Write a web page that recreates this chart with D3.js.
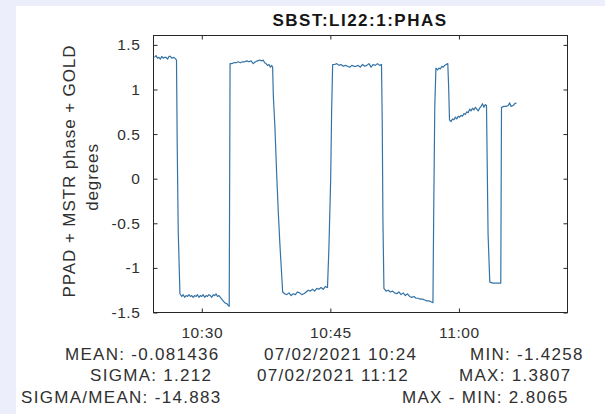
<!DOCTYPE html>
<html>
<head>
<meta charset="utf-8">
<script src="https://cdn.jsdelivr.net/npm/d3@7"></script>
<style>
  html, body { margin: 0; padding: 0; background: #ffffff; }
  svg { display: block; font-family: "Liberation Sans", Arial, sans-serif; }
</style>
</head>
<body>
<svg id="chart" width="605" height="414"></svg>
<script>
// PV being plotted
const chartTitle = "SBST:LI22:1:PHAS";
const yLabelLines = ["PPAD + MSTR phase + GOLD", "degrees"];

// axis ticks
const yTicks = [-1.5, -1, -0.5, 0, 0.5, 1, 1.5];
const yTickLabels = ["-1.5", "-1", "-0.5", "0", "0.5", "1", "1.5"];
const xTickTimes = ["10:30:00", "10:45:00", "11:00:00"];
const xTickLabels = ["10:30", "10:45", "11:00"];
const xRange = ["10:24:22", "11:12:40"];
const yRange = [-1.5, 1.605];

// samples (07/02/2021)
const sampleTimes = [
  "10:24:29", "10:24:40", "10:24:50", "10:25:00", "10:25:10", "10:25:20", "10:25:30", "10:25:40",
  "10:25:50", "10:26:00", "10:26:10", "10:26:20", "10:26:30", "10:26:45", "10:26:58",
  "10:27:03", "10:27:08", "10:27:15", "10:27:27",
  "10:27:40", "10:27:50", "10:28:00", "10:28:10", "10:28:20", "10:28:30", "10:28:40", "10:28:50",
  "10:29:00", "10:29:10", "10:29:20", "10:29:30", "10:29:40", "10:29:50", "10:30:00", "10:30:10",
  "10:30:20", "10:30:30", "10:30:40", "10:30:50", "10:31:00", "10:31:10", "10:31:20", "10:31:30",
  "10:31:40", "10:31:50", "10:32:00",
  "10:32:10", "10:32:25", "10:32:40", "10:32:55", "10:33:05", "10:33:12",
  "10:33:18",
  "10:33:30", "10:33:45", "10:34:00", "10:34:15", "10:34:30", "10:34:45", "10:35:00", "10:35:15",
  "10:35:30", "10:35:45", "10:36:00", "10:36:15", "10:36:30", "10:36:45", "10:37:00", "10:37:10",
  "10:37:20", "10:37:30", "10:37:40", "10:37:50", "10:38:00", "10:38:10",
  "10:38:16", "10:38:21", "10:38:32", "10:38:44", "10:38:56", "10:39:08", "10:39:19", "10:39:26",
  "10:39:40", "10:39:55", "10:40:10", "10:40:25", "10:40:40", "10:40:55", "10:41:10", "10:41:25",
  "10:41:40", "10:41:55", "10:42:10", "10:42:25", "10:42:40", "10:42:55", "10:43:10", "10:43:25",
  "10:43:40", "10:43:55", "10:44:10", "10:44:25", "10:44:40",
  "10:44:50", "10:45:02", "10:45:09", "10:45:16",
  "10:45:30", "10:45:45", "10:46:00", "10:46:15", "10:46:30", "10:46:45", "10:47:00", "10:47:15",
  "10:47:30", "10:47:45", "10:48:00", "10:48:15", "10:48:30", "10:48:45", "10:49:00", "10:49:15",
  "10:49:30", "10:49:45", "10:50:00", "10:50:15", "10:50:30", "10:50:45", "10:50:58",
  "10:51:03", "10:51:08", "10:51:15",
  "10:51:30", "10:51:45", "10:52:00", "10:52:15", "10:52:30", "10:52:45", "10:53:00", "10:53:15",
  "10:53:30", "10:53:45", "10:54:00", "10:54:15", "10:54:30", "10:54:45", "10:55:00", "10:55:15",
  "10:55:30", "10:55:45", "10:56:00", "10:56:15", "10:56:30", "10:56:45", "10:56:58",
  "10:57:04", "10:57:11", "10:57:19",
  "10:57:30", "10:57:40", "10:57:50", "10:58:00", "10:58:10", "10:58:20", "10:58:30", "10:58:42",
  "10:58:48", "10:58:54",
  "10:59:05", "10:59:15", "10:59:25", "10:59:35", "10:59:45", "10:59:55", "11:00:05", "11:00:15",
  "11:00:25", "11:00:35", "11:00:45", "11:00:55", "11:01:05", "11:01:15", "11:01:25", "11:01:35",
  "11:01:45", "11:01:55", "11:02:05", "11:02:15", "11:02:25", "11:02:35", "11:02:45", "11:02:55",
  "11:03:05", "11:03:13",
  "11:03:24", "11:03:36",
  "11:04:00", "11:04:25", "11:04:53",
  "11:04:58",
  "11:05:15", "11:05:30", "11:05:45", "11:05:55", "11:06:05", "11:06:20", "11:06:30", "11:06:42"
];
const phaseValues = [
  1.36, 1.38, 1.35, 1.36, 1.34, 1.37, 1.35, 1.36,
  1.36, 1.34, 1.37, 1.37, 1.35, 1.36, 1.34,
  1.33, 0.38, -0.58, -1.29,
  -1.32, -1.30, -1.33, -1.31, -1.32, -1.30, -1.32, -1.31,
  -1.33, -1.31, -1.32, -1.30, -1.33, -1.31, -1.32, -1.30,
  -1.33, -1.31, -1.32, -1.30, -1.31, -1.33, -1.30, -1.31,
  -1.29, -1.32, -1.31,
  -1.33, -1.36, -1.39, -1.40, -1.42, -1.43,
  1.29,
  1.29, 1.30, 1.30, 1.31, 1.30, 1.31, 1.31, 1.32,
  1.31, 1.32, 1.29, 1.31, 1.32, 1.33, 1.32, 1.33,
  1.30, 1.29, 1.27, 1.28, 1.25, 1.27,
  1.25, 0.92, 0.58, 0.06, -0.39, -0.77, -1.07, -1.27,
  -1.29, -1.30, -1.28, -1.31, -1.29, -1.30, -1.27, -1.28,
  -1.30, -1.29, -1.27, -1.25, -1.26, -1.24, -1.26, -1.23,
  -1.24, -1.22, -1.24, -1.21, -1.22,
  -0.77, -0.02, 0.77, 1.28,
  1.28, 1.29, 1.27, 1.28, 1.26, 1.27, 1.26, 1.25,
  1.27, 1.26, 1.26, 1.27, 1.25, 1.28, 1.26, 1.27,
  1.29, 1.25, 1.28, 1.27, 1.29, 1.27, 1.28,
  0.66, -0.47, -1.23,
  -1.26, -1.25, -1.27, -1.26, -1.28, -1.29, -1.27, -1.30,
  -1.28, -1.31, -1.29, -1.32, -1.33, -1.32, -1.34, -1.34,
  -1.35, -1.35, -1.36, -1.37, -1.37, -1.38, -1.39,
  -0.28, 0.81, 1.24,
  1.22, 1.24, 1.23, 1.26, 1.25, 1.27, 1.28, 1.29,
  1.03, 0.66,
  0.64, 0.67, 0.66, 0.69, 0.67, 0.70, 0.69, 0.71,
  0.70, 0.73, 0.72, 0.75, 0.74, 0.78, 0.76, 0.79,
  0.77, 0.80, 0.78, 0.76, 0.79, 0.81, 0.84, 0.80,
  0.83, 0.82,
  -0.62, -1.16,
  -1.17, -1.17, -1.17,
  0.80,
  0.81, 0.81, 0.82, 0.85, 0.81, 0.82, 0.84, 0.85
];

// summary printed under the plot
const statLabels = ["MEAN", "SIGMA", "SIGMA/MEAN", "MIN", "MAX", "MAX - MIN"];
const statValues = ["-0.081436", "1.212", "-14.883", "-1.4258", "1.3807", "2.8065"];
const dateRange = ["07/02/2021 10:24", "07/02/2021 11:12"];

const parseTime = d3.timeParse("%H:%M:%S");
const data = sampleTimes.map((t, i) => ({ time: parseTime(t), value: phaseValues[i] }));

const svg = d3.select("#chart");

// page background (lavender frame at top/left)
svg.append("rect").attr("width", 605).attr("height", 414).attr("fill", "#eceefb");
svg.append("rect").attr("x", 16).attr("y", 6).attr("width", 589).attr("height", 408).attr("fill", "#ffffff");

const plot = { left: 153.5, right: 567.5, top: 35.5, bottom: 312.5 };

const x = d3.scaleTime().domain(xRange.map(parseTime)).range([plot.left, plot.right]);
const y = d3.scaleLinear().domain(yRange).range([plot.bottom, plot.top]);

const axisColor = "#262626";
const textColor = "#303030";

// bottom axis with labels
svg.append("g")
  .attr("transform", `translate(0,${plot.bottom})`)
  .call(d3.axisBottom(x)
    .tickValues(xTickTimes.map(parseTime))
    .tickFormat((d, i) => xTickLabels[i])
    .tickSizeInner(-4).tickSizeOuter(0).tickPadding(14));

// left axis with labels
svg.append("g")
  .attr("transform", `translate(${plot.left},0)`)
  .call(d3.axisLeft(y)
    .tickValues(yTicks)
    .tickFormat((d, i) => yTickLabels[i])
    .tickSizeInner(-4).tickSizeOuter(0).tickPadding(13));

// top and right: ticks only
svg.append("g")
  .attr("transform", `translate(0,${plot.top})`)
  .call(d3.axisTop(x).tickValues(xTickTimes.map(parseTime)).tickFormat("")
    .tickSizeInner(-4).tickSizeOuter(0));
svg.append("g")
  .attr("transform", `translate(${plot.right},0)`)
  .call(d3.axisRight(y).tickValues(yTicks).tickFormat("")
    .tickSizeInner(-4).tickSizeOuter(0));

svg.selectAll(".domain").remove();
svg.selectAll(".tick line").attr("stroke", axisColor);
svg.selectAll(".tick text")
  .attr("fill", textColor)
  .style("font-size", "15.5px")
  .style("letter-spacing", "0.6px");

// axes box
svg.append("rect")
  .attr("x", plot.left).attr("y", plot.top)
  .attr("width", plot.right - plot.left).attr("height", plot.bottom - plot.top)
  .attr("fill", "none").attr("stroke", axisColor).attr("stroke-width", 1);

// trace
const line = d3.line().x(d => x(d.time)).y(d => y(d.value));
svg.append("path")
  .datum(data)
  .attr("fill", "none")
  .attr("stroke", "#3473a6")
  .attr("stroke-width", 1.2)
  .attr("stroke-linejoin", "round")
  .attr("d", line);

// title
svg.append("text")
  .attr("x", 360).attr("y", 26)
  .attr("text-anchor", "middle")
  .style("font-size", "17px").style("font-weight", "bold").style("letter-spacing", "1.5px")
  .attr("fill", "#151515")
  .text(chartTitle);

// y label, two lines
const yLabelPos = [[75, 171], [98, 177]];
yLabelLines.forEach((txt, i) => {
  svg.append("text")
    .attr("transform", `translate(${yLabelPos[i][0]},${yLabelPos[i][1]}) rotate(-90)`)
    .attr("text-anchor", "middle")
    .style("font-size", "17px").style("letter-spacing", "0.9px")
    .attr("fill", textColor)
    .text(txt);
});

// stats block
const statPos = [[65, 360], [90, 381], [21, 403], [470, 360], [459, 381], [402, 403]];
const statsG = svg.append("g")
  .style("font-size", "17px").style("letter-spacing", "1.3px").attr("fill", textColor);
statLabels.forEach((lab, i) => {
  statsG.append("text")
    .attr("x", statPos[i][0]).attr("y", statPos[i][1])
    .text(`${lab}: ${statValues[i]}`);
});
const datePos = [[264, 360], [257, 381]];
dateRange.forEach((d, i) => {
  statsG.append("text")
    .attr("x", datePos[i][0]).attr("y", datePos[i][1])
    .text(d);
});
</script>
</body>
</html>
